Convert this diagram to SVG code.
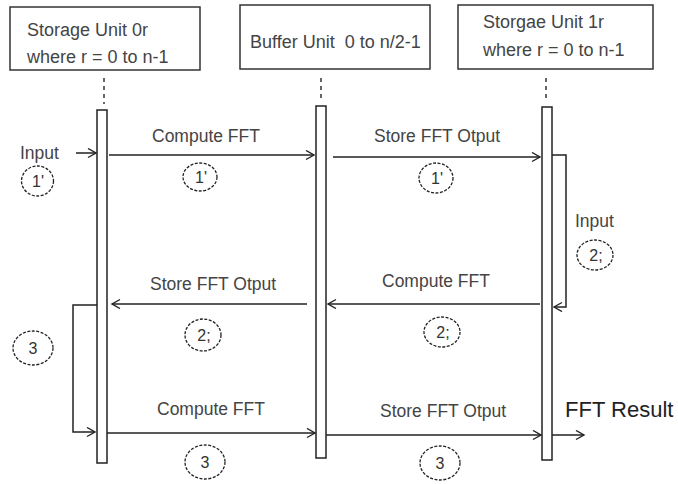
<svg xmlns="http://www.w3.org/2000/svg" width="678" height="484" viewBox="0 0 678 484">
<style>
.box{fill:#fff;stroke:#333;stroke-width:1.5}
.bar{fill:#fff;stroke:#222;stroke-width:1.5}
.life{stroke:#333;stroke-width:1.5;stroke-dasharray:4 4;fill:none}
.t{font-family:"Liberation Sans",Arial,sans-serif;font-size:18px;fill:#444}
.lbl{font-family:"Liberation Sans",Arial,sans-serif;font-size:17.5px;fill:#444}
.num{font-family:"Liberation Sans",Arial,sans-serif;font-size:16px;fill:#333;text-anchor:middle}
.big{font-family:"Liberation Sans",Arial,sans-serif;font-size:22px;fill:#222}
.ring{fill:none;stroke:#222;stroke-width:1.3;stroke-dasharray:3 1.5}
.c{fill:none;stroke:#222;stroke-width:1.5}
</style>
<defs>
<marker id="ah" markerUnits="userSpaceOnUse" markerWidth="12" markerHeight="12" refX="9" refY="5" orient="auto">
<path d="M1,0.5 L9,5 L1,9.5" fill="none" stroke="#222" stroke-width="1.4"/>
</marker>
</defs>
<rect width="678" height="484" fill="#fff"/>
<g id="storage0">
<rect class="box" x="10" y="7" width="190" height="63"/>
<text class="t" x="27" y="36">Storage Unit 0r</text>
<text class="t" x="27" y="63">where r = 0 to n-1</text>
<line class="life" x1="104" y1="78" x2="104" y2="104"/>
<rect class="bar" x="97" y="110" width="10" height="353"/>
</g>
<g id="buffer">
<rect class="box" x="240" y="5" width="190" height="64"/>
<text class="t" x="250" y="48" xml:space="preserve">Buffer Unit  0 to n/2-1</text>
<line class="life" x1="321" y1="78" x2="321" y2="100"/>
<rect class="bar" x="316" y="106" width="10" height="352"/>
</g>
<g id="storage1">
<rect class="box" x="458" y="5" width="195" height="64"/>
<text class="t" x="483" y="28">Storgae Unit 1r</text>
<text class="t" x="483" y="56">where r = 0 to n-1</text>
<line class="life" x1="546" y1="78" x2="546" y2="101"/>
<rect class="bar" x="542" y="107" width="10" height="353"/>
</g>
<g id="connectors">
<line class="c" x1="76" y1="153" x2="96" y2="153" marker-end="url(#ah)"/>
<line class="c" x1="109" y1="155" x2="314" y2="155" marker-end="url(#ah)"/>
<line class="c" x1="333" y1="157" x2="540" y2="157" marker-end="url(#ah)"/>
<path class="c" d="M552,155 H566 V307 H554" marker-end="url(#ah)"/>
<line class="c" x1="540" y1="304" x2="328" y2="304" marker-end="url(#ah)"/>
<line class="c" x1="307" y1="304" x2="112" y2="304" marker-end="url(#ah)"/>
<path class="c" d="M97,305 H73 V432 H95" marker-end="url(#ah)"/>
<line class="c" x1="107" y1="433" x2="315" y2="433" marker-end="url(#ah)"/>
<line class="c" x1="326" y1="435" x2="541" y2="435" marker-end="url(#ah)"/>
<line class="c" x1="552" y1="435" x2="584" y2="435" marker-end="url(#ah)"/>
</g>
<g id="labels">
<text class="lbl" x="20" y="159">Input</text>
<ellipse class="ring" cx="37.5" cy="181" rx="16" ry="15"/>
<text class="num" x="38" y="187">1'</text>
<text class="lbl" x="152" y="142">Compute FFT</text>
<ellipse class="ring" cx="200" cy="177" rx="17" ry="14"/>
<text class="num" x="201" y="183">1'</text>
<text class="lbl" x="374" y="142">Store FFT Otput</text>
<ellipse class="ring" cx="436" cy="178" rx="17" ry="15"/>
<text class="num" x="437" y="184">1'</text>
<text class="lbl" x="575" y="227">Input</text>
<ellipse class="ring" cx="595" cy="255" rx="18" ry="15"/>
<text class="num" x="596" y="261">2;</text>
<text class="lbl" x="382" y="287">Compute FFT</text>
<ellipse class="ring" cx="442" cy="332" rx="18" ry="15"/>
<text class="num" x="443" y="338">2;</text>
<text class="lbl" x="150" y="290">Store FFT Otput</text>
<ellipse class="ring" cx="203" cy="335" rx="18" ry="16"/>
<text class="num" x="204" y="341">2;</text>
<ellipse class="ring" cx="33" cy="348" rx="20" ry="17"/>
<text class="num" x="33" y="354">3</text>
<text class="lbl" x="157" y="415">Compute FFT</text>
<ellipse class="ring" cx="205" cy="462" rx="20" ry="17"/>
<text class="num" x="205" y="468">3</text>
<text class="lbl" x="380" y="417">Store FFT Otput</text>
<ellipse class="ring" cx="440" cy="463" rx="20" ry="17"/>
<text class="num" x="440" y="469">3</text>
<text class="big" x="565" y="417">FFT Result</text>
</g>
</svg>
